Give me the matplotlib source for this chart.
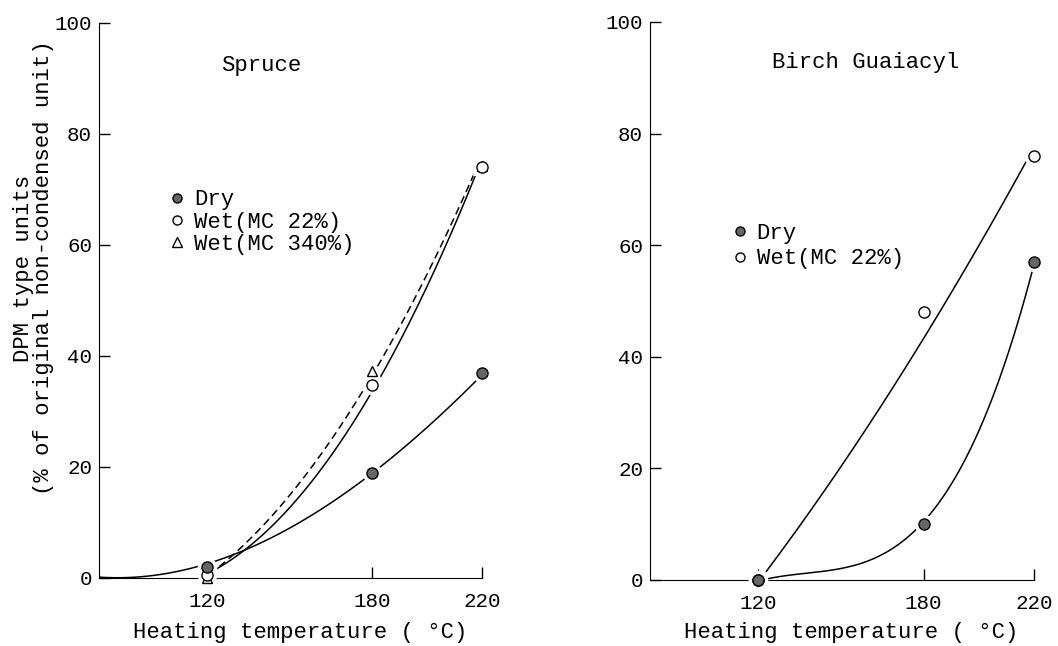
import numpy as np
import matplotlib
matplotlib.use("Agg")
import matplotlib.pyplot as plt
from matplotlib.lines import Line2D

plt.rcParams["font.family"] = ["Liberation Mono", "DejaVu Sans Mono"]

temps = [120, 180, 220]
xticks = [120, 180, 220]
yticks = [0, 20, 40, 60, 80, 100]

# measured points
spruce_dry = [2.0, 19.0, 37.0]
spruce_wet22 = [0.5, 34.8, 74.0]
spruce_wet340 = [0.0, 37.3, 74.3]
birch_dry = [0.0, 10.0, 57.0]
birch_wet22 = [0.0, 48.0, 76.0]

# hand-drawn trend curves
spruce_dry_curve_t = [81, 100, 117, 124, 148, 177, 184, 218]
spruce_dry_curve_v = [0.0, 0.6, 2.1, 3.6, 7.6, 18.0, 20.6, 35.5]
spruce_wet22_curve_t = [121, 150, 178, 200, 218]
spruce_wet22_curve_v = [1.0, 12.5, 32.0, 52.5, 73.0]
spruce_wet340_curve_t = [121, 150, 180, 200, 218]
spruce_wet340_curve_v = [1.0, 14.0, 37.0, 55.0, 73.5]
birch_wet22_curve_t = [123, 150, 180, 217]
birch_wet22_curve_v = [1.3, 21.0, 42.7, 75.0]
birch_dry_curve_t = [121, 140, 162, 176, 183, 198, 210, 219.5]
birch_dry_curve_v = [0.0, 1.0, 4.6, 8.6, 11.4, 24.0, 41.0, 55.0]


def trend(ax, t, v, deg=3, **kw):
    c = np.polyfit(t, v, deg)
    xs = np.linspace(min(t), max(t), 200)
    ax.plot(xs, np.polyval(c, xs), color="black", lw=1.1, zorder=2, **kw)


def points(ax, y, marker, face, size=8):
    # white halo leaves a small gap between curve and symbol
    ax.plot(temps, y, ls="none", marker=marker, ms=size + 5, mfc="white",
            mec="white", zorder=3, clip_on=False)
    ax.plot(temps, y, ls="none", marker=marker, ms=size, mfc=face,
            mec="black", mew=1.0, zorder=4, clip_on=False)


def style(ax, label_y):
    ax.set_xlim(80.8, 220)
    ax.set_ylim(0, 100)
    ax.spines["top"].set_visible(False)
    ax.spines["right"].set_visible(False)
    ax.set_xticks(xticks)
    ax.set_yticks(yticks)
    ax.tick_params(direction="in", length=8, width=1.0, labelsize=15)
    ax.tick_params(axis="x", pad=10)
    ax.tick_params(axis="y", pad=5)
    ax.set_xlabel("Heating temperature ( °C)", fontsize=16)
    ax.xaxis.set_label_coords(0.525, label_y)


fig = plt.figure(figsize=(10.58, 6.46), dpi=100)
ax1 = fig.add_axes([0.0936, 0.1053, 0.362, 0.8591])
ax2 = fig.add_axes([0.6144, 0.1022, 0.3629, 0.8638])

# Spruce
trend(ax1, spruce_dry_curve_t, spruce_dry_curve_v)
trend(ax1, spruce_wet22_curve_t, spruce_wet22_curve_v, deg=2)
trend(ax1, spruce_wet340_curve_t, spruce_wet340_curve_v, deg=2, ls=(0, (5, 3)))
points(ax1, spruce_wet340, "^", "white", 7.5)
points(ax1, spruce_wet22, "o", "white", 8)
points(ax1, spruce_dry, "o", "#666666", 8)
style(ax1, -0.08)
ax1.text(0.319, 0.924, "Spruce", transform=ax1.transAxes, fontsize=16,
         va="center")

h1 = [Line2D([], [], ls="none", marker="o", ms=6.5, mfc="#666666", mec="black"),
      Line2D([], [], ls="none", marker="o", ms=6.5, mfc="white", mec="black"),
      Line2D([], [], ls="none", marker="^", ms=6.5, mfc="white", mec="black")]
ax1.legend(h1, ["Dry", "Wet(MC 22%)", "Wet(MC 340%)"], loc="upper left",
           bbox_to_anchor=(0.19, 0.70), frameon=False, fontsize=16,
           handlelength=0.5, handletextpad=0.5, labelspacing=0.05,
           borderpad=0, borderaxespad=0)

# Birch guaiacyl
trend(ax2, birch_wet22_curve_t, birch_wet22_curve_v, deg=2)
trend(ax2, birch_dry_curve_t, birch_dry_curve_v)
points(ax2, birch_wet22, "o", "white", 8)
points(ax2, birch_dry, "o", "#666666", 8)
style(ax2, -0.075)
ax2.text(0.318, 0.927, "Birch Guaiacyl", transform=ax2.transAxes,
         fontsize=16, va="center")

h2 = [Line2D([], [], ls="none", marker="o", ms=6.5, mfc="#666666", mec="black"),
      Line2D([], [], ls="none", marker="o", ms=6.5, mfc="white", mec="black")]
ax2.legend(h2, ["Dry", "Wet(MC 22%)"], loc="upper left",
           bbox_to_anchor=(0.22, 0.64), frameon=False, fontsize=16,
           handlelength=0.5, handletextpad=0.5, labelspacing=0.2,
           borderpad=0, borderaxespad=0)

fig.text(0.022, 0.585, "DPM type units", rotation=90, ha="center",
         va="center", fontsize=16)
fig.text(0.041, 0.585, "(% of original non-condensed unit)", rotation=90,
         ha="center", va="center", fontsize=16)

fig.savefig("out.png", dpi=100)
